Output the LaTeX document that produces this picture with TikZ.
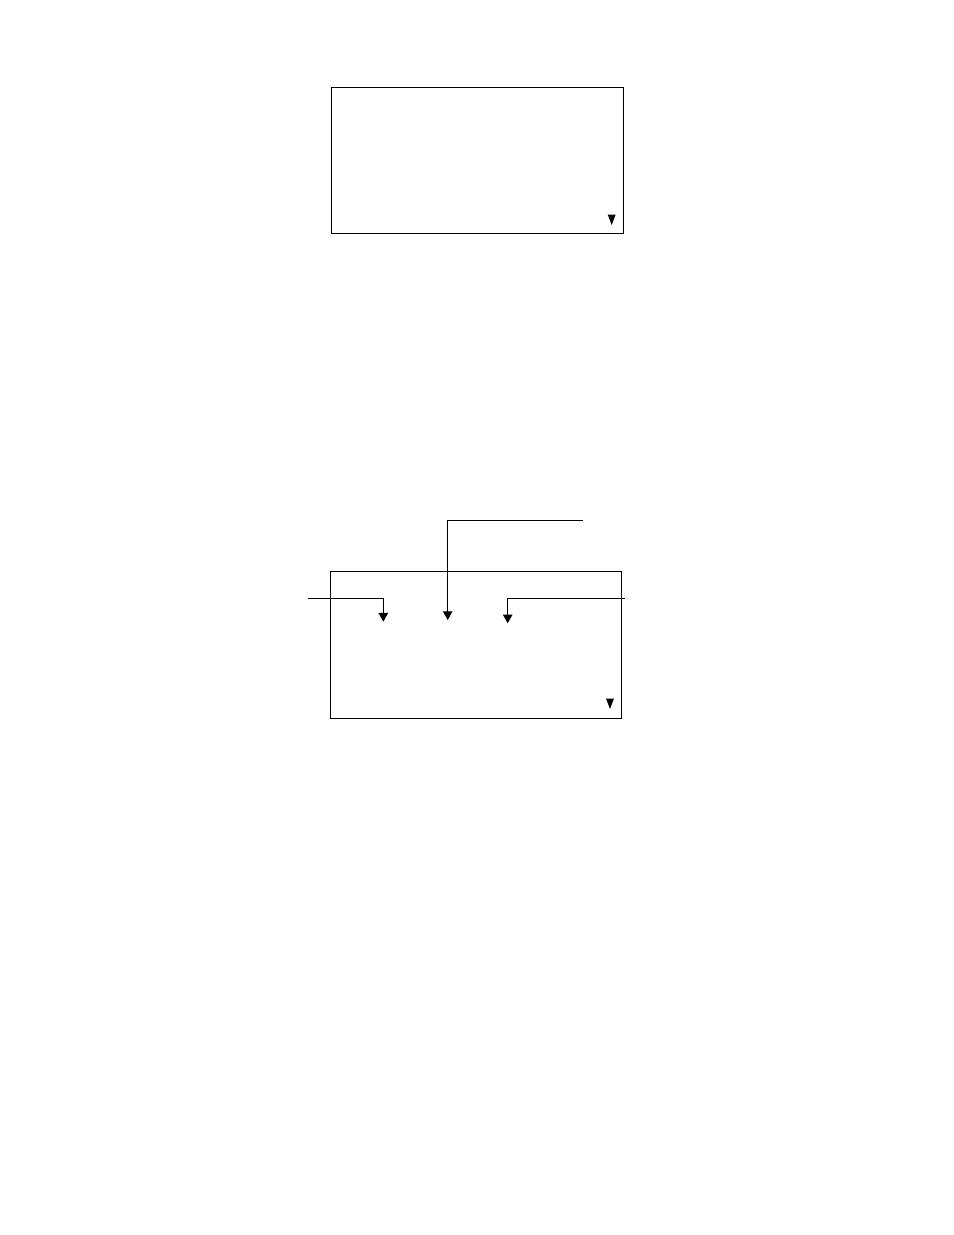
\documentclass[tikz,border=0pt]{standalone}
\usepackage{tikz}
\usetikzlibrary{arrows.meta}
\pgfkeys{/tikz/>=Stealth}

\begin{document}
\begin{tikzpicture}[x=0.6415pt,y=-0.6415pt,line width=0.9pt,
    feed/.style={-{Triangle[length=5.6pt,width=6pt]}},
    marker/.style={fill=black}]
    \useasboundingbox (0,0) rectangle (954,1235);

    % upper panel
    \coordinate (topNW) at (331.7,87.3);
    \coordinate (topSE) at (623.3,233.3);
    \draw (topNW) rectangle (topSE);
    \fill[marker] (607.7,214.5) -- (615.7,214.5) -- (611.7,225) -- cycle;

    % lower panel
    \coordinate (botNW) at (330.7,571.3);
    \coordinate (botSE) at (621.7,718.3);
    \draw (botNW) rectangle (botSE);
    \fill[marker] (606,698.5) -- (614,698.5) -- (610,709) -- cycle;

    % feeds into the lower panel
    \coordinate (inL) at (308.3,598.3);
    \coordinate (inM) at (582.7,520.7);
    \coordinate (inR) at (625,598.3);
    \coordinate (tipL) at (383.3,621.7);
    \coordinate (tipM) at (447.7,620);
    \coordinate (tipR) at (507.7,623.3);

    \draw[feed] (inL) -| (tipL);   % from the left
    \draw[feed] (inM) -| (tipM);   % from above
    \draw[feed] (inR) -| (tipR);   % from the right
\end{tikzpicture}
\end{document}
